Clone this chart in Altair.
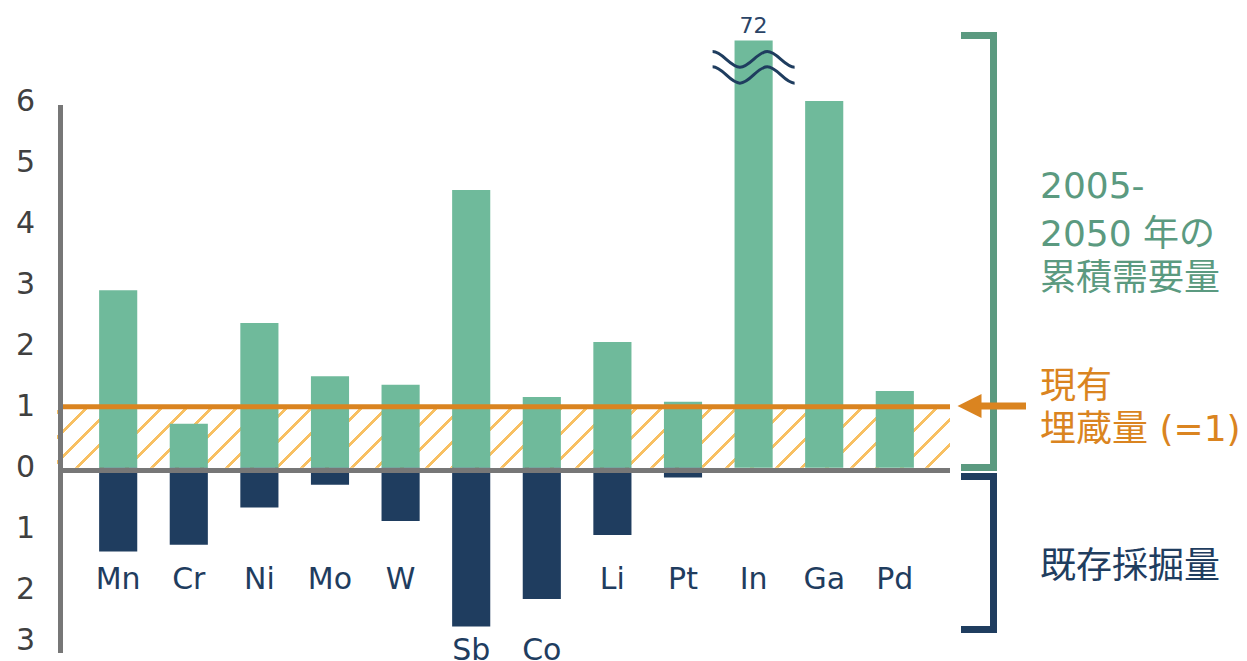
import altair as alt
import pandas as pd

# ---- data ----
CATEGORIES = ["Mn", "Cr", "Ni", "Mo", "W", "Sb", "Co", "Li", "Pt", "In", "Ga", "Pd"]
DEMAND = [2.91, 0.72, 2.37, 1.50, 1.36, 4.55, 1.16, 2.06, 1.08, 72, 6.01, 1.26]   # 2005-2050 cumulative demand / reserves
EXTRACTED = [1.37, 1.26, 0.65, 0.28, 0.87, 2.60, 2.15, 1.10, 0.16, 0, 0, 0]       # cumulative extraction so far / reserves
RESERVE = 1.0
Y_TICKS = [-3, -2, -1, 0, 1, 2, 3, 4, 5, 6]

# ---- style ----
GREEN = "#6fba9b"
GREEN_DARK = "#5b9a80"
NAVY = "#1f3d5f"
ORANGE = "#da8420"
HATCH = "#f8c062"
GRAY = "#777777"
CAP = 7.0  # display cap for the broken bar
LATIN = "DejaVu Sans"
JP = "DejaVu Sans, Noto Sans CJK JP"

W, H = 891, 647
Y_DOMAIN = [-3.1, 7.5]

df = pd.DataFrame({"cat": CATEGORIES, "demand": DEMAND, "extracted": EXTRACTED})
df["disp"] = df["demand"].clip(upper=CAP)
df["neg"] = -df["extracted"]
df["capped"] = df["demand"] > CAP
df["lbl"] = df["demand"].map(lambda v: f"{v:g}")
df["label_y"] = df["extracted"].map(lambda v: -3.0 if v > 2 else -1.84)
df["brk"] = CAP - 0.45

ticks = pd.DataFrame({"v": Y_TICKS})
ticks["t"] = ticks["v"].abs().astype(str)
ticks["pos"] = ticks["v"].clip(lower=-2.83)  # keep the lowest label inside the picture

xenc = alt.X("cat:N", sort=CATEGORIES, axis=None,
             scale=alt.Scale(paddingInner=0.46, paddingOuter=0.54))
yscale = alt.Scale(domain=Y_DOMAIN, nice=False, zero=False)

one = pd.DataFrame({"a": [0]})

# hatch band between 0 and 1 (diagonal stripes via a sharp-stop linear gradient)
rw, rh = 893.0, (H / (Y_DOMAIN[1] - Y_DOMAIN[0])) * RESERVE
span = rw + rh
r = rh / rw
k = span / (rw * (1 + r * r))
stops = [alt.GradientStop(offset=0, color="#ffffff")]
c = 6 - 25
while c < span + 25:
    a = max(0.0, min(1.0, (c - 2) / span))
    b = max(0.0, min(1.0, (c + 2) / span))
    if b > a:
        stops += [alt.GradientStop(offset=a, color="#ffffff"),
                  alt.GradientStop(offset=a, color=HATCH),
                  alt.GradientStop(offset=b, color=HATCH),
                  alt.GradientStop(offset=b, color="#ffffff")]
    c += 25
stops.append(alt.GradientStop(offset=1, color="#ffffff"))
grad = alt.LinearGradient(gradient="linear", stops=stops, x1=0, y1=0, x2=k, y2=k * r)

hatch = alt.Chart(one).mark_rect(fill=grad).encode(
    x=alt.value(-4), x2=alt.value(889),
    y=alt.YDatum(RESERVE, scale=yscale, axis=None), y2=alt.datum(0))

green = alt.Chart(df).mark_bar(color=GREEN).encode(
    x=xenc, y=alt.Y("disp:Q", scale=yscale, axis=None), y2=alt.datum(0))

navy = alt.Chart(df).transform_filter("datum.extracted > 0").mark_bar(color=NAVY).encode(
    x=xenc, y=alt.Y("neg:Q", scale=yscale, axis=None), y2=alt.datum(0))

reserve_line = alt.Chart(one).mark_rule(color=ORANGE, strokeWidth=5).encode(
    x=alt.value(0), x2=alt.value(889), y=alt.YDatum(RESERVE, scale=yscale, axis=None))

baseline = alt.Chart(one).mark_rule(color=GRAY, strokeWidth=5, yOffset=2.7).encode(
    x=alt.value(-3), x2=alt.value(889), y=alt.YDatum(0, scale=yscale, axis=None))

vaxis = alt.Chart(one).mark_rule(color=GRAY, strokeWidth=5).encode(
    x=alt.value(-0.5), y=alt.value(95), y2=alt.value(643))

tick_lbl = alt.Chart(ticks).mark_text(
    align="right", baseline="middle", fontSize=30, font=LATIN, color="#404040").encode(
    x=alt.value(-26), y=alt.Y("pos:Q", scale=yscale, axis=None), text="t:N")

WAVE = ("M -1 -0.4 C -0.757 -0.4 -0.576 -0.02 -0.333 -0.02 "
        "C -0.09 -0.02 0.09 -0.4 0.333 -0.4 C 0.576 -0.4 0.757 -0.02 1 -0.02 "
        "M -1 -0.03 C -0.757 -0.03 -0.576 0.37 -0.333 0.37 "
        "C -0.09 0.37 0.09 -0.03 0.333 -0.03 C 0.576 -0.03 0.757 0.37 1 0.37")
breaks = alt.Chart(df).transform_filter("datum.capped").mark_point(
    shape=WAVE, size=82 * 82, filled=False, stroke=NAVY, strokeWidth=3, opacity=1).encode(
    x=xenc, y=alt.Y("brk:Q", scale=yscale, axis=None))

big_lbl = alt.Chart(df).transform_filter("datum.capped").mark_text(
    dy=-15, fontSize=22, font=LATIN, color="#2a4466", baseline="middle").encode(
    x=xenc, y=alt.Y("disp:Q", scale=yscale, axis=None), text="lbl:N")

cat_lbl = alt.Chart(df).mark_text(fontSize=30, font=LATIN, color=NAVY, baseline="middle").encode(
    x=xenc, y=alt.Y("label_y:Q", scale=yscale, axis=None), text="cat:N")

def rule(color, width, **enc):
    return alt.Chart(one).mark_rule(color=color, strokeWidth=width).encode(
        **{k2: alt.value(v) for k2, v in enc.items()})

brackets = [
    rule(GREEN_DARK, 7, x=932.5, y=22, y2=461),
    rule(GREEN_DARK, 7, x=900, x2=936, y=25.5),
    rule(GREEN_DARK, 7, x=900, x2=936, y=457.5),
    rule(NAVY, 7, x=932.5, y=463, y2=623),
    rule(NAVY, 7, x=900, x2=936, y=466.5),
    rule(NAVY, 7, x=900, x2=936, y=619.5),
    rule(ORANGE, 7, x=914, x2=965, y=396),
]
arrow_head = alt.Chart(one).mark_point(
    shape="M -1 0 L 1 -1 L 1 1 Z", size=576, filled=True, color=ORANGE, opacity=1).encode(
    x=alt.value(908.5), y=alt.value(396))

def txt(s, x, y, color, size=36):
    return alt.Chart(one).mark_text(text=s, align="left", baseline="middle", fontSize=size,
                                    font=JP, color=color).encode(x=alt.value(x), y=alt.value(y))

texts = [
    txt("2005-", 979, 177, GREEN_DARK),
    txt("2050 年の", 979, 225, GREEN_DARK),
    txt("累積需要量", 979, 269, GREEN_DARK),
    txt("現有", 979, 377, ORANGE),
    txt("埋蔵量 (=1)", 979, 420, ORANGE),
    txt("既存採掘量", 979, 557, NAVY),
]

chart = alt.layer(
    hatch, green, navy, reserve_line, baseline, vaxis, tick_lbl, breaks, big_lbl, cat_lbl,
    *brackets, arrow_head, *texts
).properties(
    width=W, height=H, autosize="none", background="white",
    padding={"left": 61, "top": 10, "right": 295, "bottom": 4},
).configure_view(stroke=None)

chart.save("out.html", embed_options={"renderer": "svg", "actions": False})
